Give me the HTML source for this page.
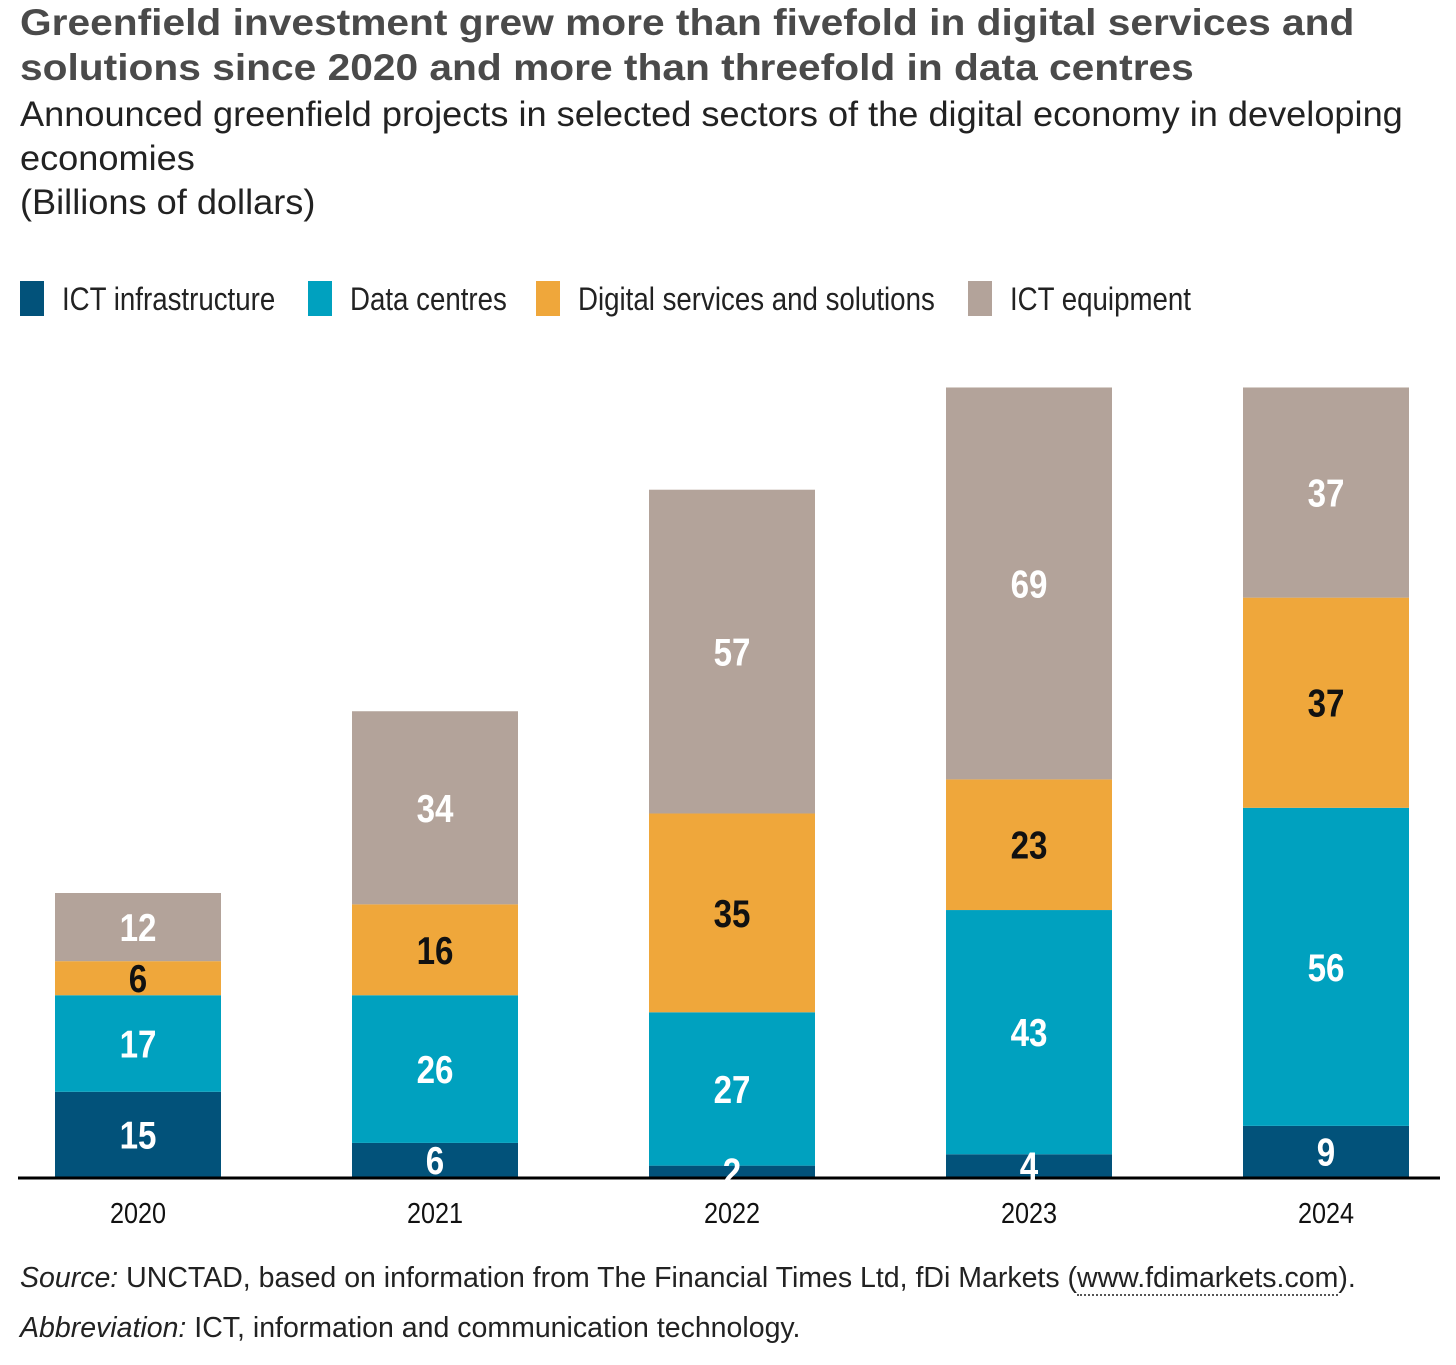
<!DOCTYPE html>
<html><head><meta charset="utf-8"><style>
body{margin:0;background:#fff;width:1456px;height:1365px;overflow:hidden;font-family:"Liberation Sans",sans-serif;}
.t{position:absolute;left:20px;margin:0;white-space:nowrap;transform-origin:0 0;}
</style></head><body>
<div class="t" style="top:0px;font-weight:bold;font-size:37px;line-height:45px;color:#4a4a4a;transform:scaleX(1.1);">Greenfield investment grew more than fivefold in digital services and<br>solutions since 2020 and more than threefold in data centres</div>
<div class="t" style="top:93px;font-size:35px;line-height:44px;color:#222;transform:scaleX(1.033);">Announced greenfield projects in selected sectors of the digital economy in developing<br>economies<br>(Billions of dollars)</div>
<svg width="1456" height="1365" style="position:absolute;left:0;top:0" id="chart"></svg>
<div class="t" style="top:1262px;font-size:28.5px;color:#222;"><i>Source:</i> UNCTAD, based on information from The Financial Times Ltd, fDi Markets (<span style="border-bottom:2px dotted #555">www.fdimarkets.com</span>).</div>
<div class="t" style="top:1312px;font-size:28.5px;color:#222;"><i>Abbreviation:</i> ICT, information and communication technology.</div>
<script>
const years=["2020","2021","2022","2023","2024"];
const ictInfra=[15,6,2,4,9];
const dataCentres=[17,26,27,43,56];
const digital=[6,16,35,23,37];
const ictEquip=[12,34,57,69,37];
const seriesNames=["ICT infrastructure","Data centres","Digital services and solutions","ICT equipment"];
const series=[ictInfra,dataCentres,digital,ictEquip];
const colors=["#02527a","#00a1bf","#efa73b","#b3a39a"];
const textColors=["#fff","#fff","#111","#fff"];
const svg=document.getElementById('chart');
const NS="http://www.w3.org/2000/svg";
const base=1177, scale=5.68, x0=55, step=297, bw=166;
const y=v=>base-v*scale;
const xc=i=>x0+i*step+bw/2;
function mk(t,a){const e=document.createElementNS(NS,t);for(const k in a)e.setAttribute(k,a[k]);svg.appendChild(e);return e;}
const font='"Liberation Sans",sans-serif';
function txt(x,yy,s,size,sx,attrs){
  const t=mk('text',Object.assign({x:0,y:0,'font-size':size,'font-family':font,transform:`translate(${x},${yy}) scale(${sx},1)`},attrs));
  t.textContent=s;return t;
}
const lx=[20,308,536,968];
seriesNames.forEach((n,s)=>{
  const r=mk('rect',{x:lx[s],y:281,width:24,height:35,fill:colors[s]});
  
  
  const t=txt(lx[s]+42,310,n,32,0.865,{fill:'#222'});
  
  
});
years.forEach((yr,i)=>{
  let cum=0;
  series.forEach((arr,s)=>{
    const v=arr[i];
    const r=mk('rect',{x:x0+i*step,y:y(cum+v),width:bw,height:v*scale,fill:colors[s]});
    
    
    cum+=v;
  });
});
const ax=mk('line',{x1:18,x2:1440,y1:base+1,y2:base+1,stroke:'#000','stroke-width':3});


years.forEach((yr,i)=>{
  let cum=0;
  series.forEach((arr,s)=>{
    const v=arr[i];
    const t=txt(xc(i),y(cum+v/2)+14,String(v),39,0.85,{'font-weight':'bold',fill:textColors[s],'text-anchor':'middle'});
    
    
    cum+=v;
  });
  const t=txt(xc(i),1223,yr,29,0.87,{fill:'#111','text-anchor':'middle'});
  
  
});
</script>
</body></html>
